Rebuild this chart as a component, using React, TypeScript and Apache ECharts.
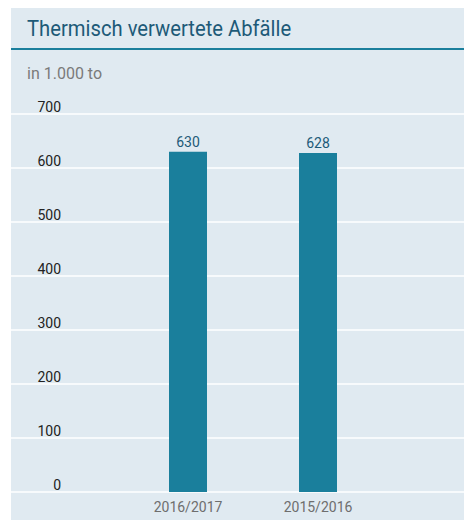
import React, { useEffect, useRef } from "react";
import * as echarts from "echarts";

const title = "Thermisch verwertete Abfälle";
const unitLabel = "in 1.000 to";
const categories = ["2016/2017", "2015/2016"];
const values = [630, 628];
const yTicks = [0, 100, 200, 300, 400, 500, 600, 700];

export default function App() {
  const ref = useRef<HTMLDivElement>(null);
  useEffect(() => {
    if (!ref.current) return;
    const chart = echarts.init(ref.current, null, { renderer: "svg" });
    const font = "Roboto";
    chart.setOption({
      animation: false,
      backgroundColor: "#ffffff",
      graphic: [
        { type: "rect", shape: { x: 11, y: 8, width: 453, height: 512 }, style: { fill: "#e0eaf1" }, z: -10 },
        { type: "rect", shape: { x: 11, y: 48, width: 453, height: 2 }, style: { fill: "#1b7f9c" }, z: 10 },
        { type: "text", x: 27, y: 28.5, scaleX: 0.92, style: { text: title, fill: "#1d5a78", font: `22px "${font}"`, verticalAlign: "middle" }, z: 10 },
        { type: "text", x: 27, y: 73, style: { text: unitLabel, fill: "#7a7a7a", font: `16px "${font}"`, verticalAlign: "middle" }, z: 10 },
      ],
      grid: [
        { left: 11, right: 0, top: 114, bottom: 28 },
        { left: 123, width: 260, top: 114, bottom: 28 },
      ],
      xAxis: [
        { type: "category", gridIndex: 0, data: categories, show: false },
        {
          type: "category", gridIndex: 1, data: categories,
          axisLine: { show: false }, axisTick: { show: false },
          axisLabel: { color: "#6e6e6e", fontFamily: font, fontSize: 14, margin: 8 },
        },
      ],
      yAxis: [
        {
          type: "value", gridIndex: 0, min: 0, max: yTicks[yTicks.length - 1], interval: 100,
          axisLine: { show: false }, axisTick: { show: false },
          splitLine: { lineStyle: { color: "#ffffff", width: 1.5 } },
          axisLabel: {
            inside: true, align: "right", margin: 50, verticalAlign: "bottom",
            color: "#222222", fontFamily: font, fontSize: 14,
          },
        },
        { type: "value", gridIndex: 1, min: 0, max: 700, interval: 100, show: false },
      ],
      series: [
        {
          type: "bar", xAxisIndex: 1, yAxisIndex: 1, data: values, barWidth: 38,
          itemStyle: { color: "#1a7f9c" },
          label: { show: true, position: "top", distance: 3, color: "#1d5a78", fontFamily: font, fontSize: 14 },
        },
      ],
    });
    return () => chart.dispose();
  }, []);
  return <div ref={ref} style={{ position: "fixed", left: 0, top: 0, width: 464, height: 520 }} />;
}
